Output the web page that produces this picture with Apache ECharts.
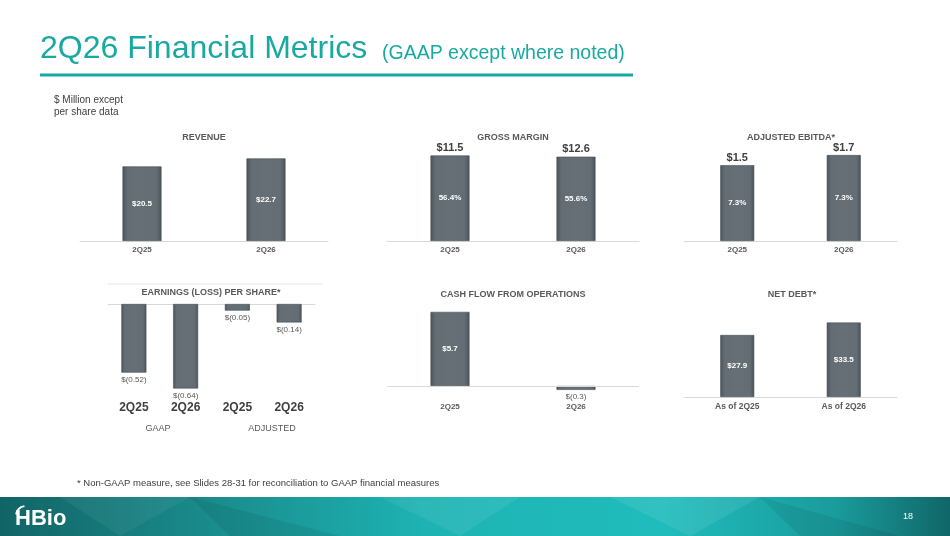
<!DOCTYPE html>
<html>
<head>
<meta charset="utf-8">
<title>2Q26 Financial Metrics</title>
<script src="https://cdn.jsdelivr.net/npm/echarts@6/dist/echarts.min.js"></script>
<style>html,body{margin:0;padding:0;background:#fff;}</style>
</head>
<body>
<div id="main" style="width:950px;height:536px;"></div>
<script>
// values
var periods = ['2Q25', '2Q26'];
var revenue = [20.5, 22.7];
var grossMarginPct = [56.4, 55.6];
var grossMarginUsd = [11.5, 12.6];
var ebitdaUsd = [1.5, 1.7];
var ebitdaPct = [7.3, 7.3];
var epsPeriods = ['2Q25', '2Q26', '2Q25', '2Q26'];
var eps = [-0.52, -0.64, -0.05, -0.14];
var cashFlow = [5.7, -0.3];
var debtPeriods = ['As of 2Q25', 'As of 2Q26'];
var netDebt = [27.9, 33.5];

var FONT = '"Liberation Sans", Arial, sans-serif';
var GREY = '#595959';
var LINE = '#d9d9d9';

function usd(v, d) {
    return v < 0 ? '$(' + Math.abs(v).toFixed(d) + ')' : '$' + v.toFixed(d);
}

// bevelled grey bar
var barStyle = {
    color: new echarts.graphic.LinearGradient(0, 0, 1, 0, [
        { offset: 0, color: '#4b545a' },
        { offset: 0.13, color: '#646d74' },
        { offset: 0.5, color: '#676f76' },
        { offset: 0.87, color: '#646d74' },
        { offset: 1, color: '#4a5359' }
    ]),
    borderColor: '#465056',
    borderWidth: 0.6
};

var insideLabel = { show: true, position: 'inside', color: '#fff', fontWeight: 'bold', fontSize: 8, fontFamily: FONT };
var topLabel = { show: true, position: 'top', distance: 2, color: '#404040', fontWeight: 'bold', fontSize: 11, fontFamily: FONT };
var belowLabel = { show: true, position: 'bottom', distance: 3, color: GREY, fontSize: 8, fontFamily: FONT };

function catAxis(grid, data, extra) {
    var ax = {
        type: 'category', gridIndex: grid, data: data,
        axisLine: { show: true, lineStyle: { color: LINE, width: 1 } },
        axisTick: { show: false },
        axisLabel: { margin: 5, color: GREY, fontSize: 8, fontWeight: 'bold', fontFamily: FONT }
    };
    return Object.assign(ax, extra || {});
}

function valAxis(grid, min, max) {
    return { type: 'value', gridIndex: grid, min: min, max: max, show: false };
}

var chart = echarts.init(document.getElementById('main'));

var titles = [
    ['REVENUE', 204, 138], ['GROSS MARGIN', 513, 138], ['ADJUSTED EBITDA*', 791, 138],
    ['EARNINGS (LOSS) PER SHARE*', 211, 293], ['CASH FLOW FROM OPERATIONS', 513, 295], ['NET DEBT*', 792, 295]
];

var graphics = titles.map(function (t) {
    return { type: 'text', x: t[1], y: t[2], style: { text: t[0], align: 'center', verticalAlign: 'middle', font: 'bold 9px ' + FONT, fill: GREY } };
});

graphics = graphics.concat([
    { type: 'text', x: 40, y: 49, style: { text: '2Q26 Financial Metrics', verticalAlign: 'middle', font: '32px ' + FONT, fill: '#1aa9a2' } },
    { type: 'text', x: 382, y: 54, style: { text: '(GAAP except where noted)', verticalAlign: 'middle', font: '19.5px ' + FONT, fill: '#1aa9a2' } },
    { type: 'line', shape: { x1: 40, y1: 75, x2: 633, y2: 75 }, style: { stroke: '#1aa9a2', lineWidth: 3 } },
    { type: 'text', x: 54, y: 100, style: { text: '$ Million except', verticalAlign: 'middle', font: '10px ' + FONT, fill: '#404040' } },
    { type: 'text', x: 54, y: 112, style: { text: 'per share data', verticalAlign: 'middle', font: '10px ' + FONT, fill: '#404040' } },
    { type: 'line', shape: { x1: 108, y1: 284, x2: 323, y2: 284 }, style: { stroke: '#e6e6e6', lineWidth: 1 } },
    { type: 'text', x: 158, y: 429, style: { text: 'GAAP', align: 'center', verticalAlign: 'middle', font: '9px ' + FONT, fill: GREY } },
    { type: 'text', x: 272, y: 429, style: { text: 'ADJUSTED', align: 'center', verticalAlign: 'middle', font: '9px ' + FONT, fill: GREY } },
    { type: 'text', x: 77, y: 483, style: { text: '* Non-GAAP measure, see Slides 28-31 for reconciliation to GAAP financial measures', verticalAlign: 'middle', font: '9.5px ' + FONT, fill: '#404040' } },
    // footer band
    { type: 'rect', shape: { x: 0, y: 497, width: 950, height: 39 }, style: {
        fill: new echarts.graphic.LinearGradient(0, 0, 1, 0, [
            { offset: 0, color: '#116466' }, { offset: 0.15, color: '#187f80' },
            { offset: 0.45, color: '#1eb3b3' }, { offset: 0.7, color: '#20bcbc' },
            { offset: 0.88, color: '#1a9b9c' }, { offset: 1, color: '#106668' }
        ]) } },
    { type: 'polygon', shape: { points: [[60, 497], [190, 497], [120, 536]] }, style: { fill: 'rgba(255,255,255,0.05)' } },
    { type: 'polygon', shape: { points: [[190, 497], [340, 536], [230, 536]] }, style: { fill: 'rgba(0,0,0,0.07)' } },
    { type: 'polygon', shape: { points: [[380, 497], [520, 497], [460, 536]] }, style: { fill: 'rgba(255,255,255,0.07)' } },
    { type: 'polygon', shape: { points: [[610, 497], [760, 497], [690, 536]] }, style: { fill: 'rgba(255,255,255,0.08)' } },
    { type: 'polygon', shape: { points: [[760, 497], [900, 536], [800, 536]] }, style: { fill: 'rgba(0,0,0,0.07)' } },
    { type: 'arc', shape: { cx: 26, cy: 516, r: 10, startAngle: Math.PI * 1.05, endAngle: Math.PI * 1.45 }, style: { stroke: '#fff', lineWidth: 2, fill: null } },
    { type: 'text', x: 15, y: 519, style: { text: 'HBio', verticalAlign: 'middle', font: 'bold 22px ' + FONT, fill: '#fff' } },
    { type: 'text', x: 908, y: 517, style: { text: '18', align: 'center', verticalAlign: 'middle', font: '9px ' + FONT, fill: '#fff' } }
]);

chart.setOption({
    animation: false,
    backgroundColor: '#fff',
    grid: [
        { left: 80, width: 248, top: 150, height: 91 },
        { left: 387, width: 252, top: 150, height: 91 },
        { left: 684, width: 213, top: 150, height: 91 },
        { left: 108, width: 207, top: 304, height: 92.4 },
        { left: 387, width: 252, top: 301.5, height: 97.5 },
        { left: 684, width: 213, top: 297, height: 100 }
    ],
    xAxis: [
        catAxis(0, periods),
        catAxis(1, periods),
        catAxis(2, periods),
        catAxis(3, epsPeriods, { position: 'top', axisLabel: { show: false } }),
        catAxis(3, epsPeriods, { position: 'bottom', axisLine: { show: false },
            axisLabel: { margin: 5, color: '#404040', fontSize: 12, fontWeight: 'bold', fontFamily: FONT } }),
        catAxis(4, periods, { axisLine: { show: false, onZero: false }, axisLabel: { margin: 4, color: GREY, fontSize: 8, fontWeight: 'bold', fontFamily: FONT } }),
        catAxis(5, debtPeriods, { axisLabel: { margin: 5, color: GREY, fontSize: 8.5, fontWeight: 'bold', fontFamily: FONT } })
    ],
    yAxis: [
        valAxis(0, 0, 25),
        valAxis(1, 0, 60),
        valAxis(2, 0, 1.8),
        valAxis(3, -0.7, 0),
        valAxis(4, -1, 6.5),
        valAxis(5, 0, 45)
    ],
    graphic: graphics,
    series: [
        { type: 'bar', xAxisIndex: 0, yAxisIndex: 0, barWidth: 39, data: revenue, itemStyle: barStyle,
          label: Object.assign({}, insideLabel, { formatter: function (p) { return usd(p.value, 1); } }) },
        { type: 'bar', xAxisIndex: 1, yAxisIndex: 1, barWidth: 39, barGap: '-100%', data: grossMarginPct, itemStyle: barStyle,
          label: Object.assign({}, insideLabel, { formatter: function (p) { return p.value.toFixed(1) + '%'; } }) },
        { type: 'bar', xAxisIndex: 1, yAxisIndex: 1, barWidth: 39, barGap: '-100%', data: grossMarginPct, silent: true,
          itemStyle: { color: 'rgba(0,0,0,0)' },
          label: Object.assign({}, topLabel, { formatter: function (p) { return usd(grossMarginUsd[p.dataIndex], 1); } }) },
        { type: 'bar', xAxisIndex: 2, yAxisIndex: 2, barWidth: 34, barGap: '-100%', data: ebitdaUsd, itemStyle: barStyle,
          label: Object.assign({}, insideLabel, { formatter: function (p) { return ebitdaPct[p.dataIndex].toFixed(1) + '%'; } }) },
        { type: 'bar', xAxisIndex: 2, yAxisIndex: 2, barWidth: 34, barGap: '-100%', data: ebitdaUsd, silent: true,
          itemStyle: { color: 'rgba(0,0,0,0)' },
          label: Object.assign({}, topLabel, { formatter: function (p) { return usd(p.value, 1); } }) },
        { type: 'bar', xAxisIndex: 4, yAxisIndex: 3, barWidth: 25, data: eps, itemStyle: barStyle,
          label: Object.assign({}, belowLabel, { formatter: function (p) { return usd(p.value, 2); } }) },
        { type: 'bar', xAxisIndex: 5, yAxisIndex: 4, barWidth: 39, itemStyle: barStyle,
          data: cashFlow.map(function (v) {
              return { value: v, label: v >= 0 ? insideLabel : belowLabel };
          }),
          label: { formatter: function (p) { return usd(p.value, 1); } },
          markLine: { silent: true, symbol: 'none', label: { show: false },
              lineStyle: { color: LINE, type: 'solid', width: 1 }, data: [{ yAxis: 0 }] } },
        { type: 'bar', xAxisIndex: 6, yAxisIndex: 5, barWidth: 34, data: netDebt, itemStyle: barStyle,
          label: Object.assign({}, insideLabel, { formatter: function (p) { return usd(p.value, 1); } }) }
    ]
});
</script>
</body>
</html>
